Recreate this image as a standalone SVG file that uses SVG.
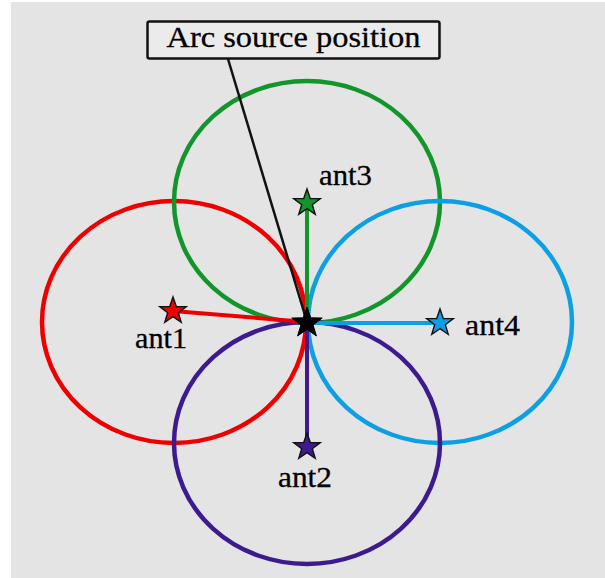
<svg xmlns="http://www.w3.org/2000/svg" width="605" height="578" viewBox="0 0 605 578">
  <defs>
    <style>
      .lbl { font-family: "Liberation Serif", "Times New Roman", serif; font-size: 30px; fill: #000; stroke: #000; stroke-width: 0.3; }
      .ring { fill: none; stroke-width: 4.5; }
      .ray { stroke-width: 4; stroke-linecap: butt; }
      .star { stroke: #111; stroke-width: 1.4; stroke-linejoin: miter; }
    </style>
    <path id="star" d="M0,-14 L3.29,-4.53 L13.31,-4.33 L5.33,1.73 L8.23,11.33 L0,5.6 L-8.23,11.33 L-5.33,1.73 L-13.31,-4.33 L-3.29,-4.53 Z"/>
  </defs>

  <!-- canvas -->
  <rect x="0" y="0" width="605" height="578" fill="#ffffff"/>
  <rect x="11" y="2" width="594" height="576" fill="#e4e4e4"/>

  <!-- coverage rings of the four antennas -->
  <g id="rings">
    <ellipse class="ring" cx="174" cy="322" rx="132" ry="121" stroke="#ee0000"/>
    <ellipse class="ring" cx="307" cy="202" rx="133" ry="121" stroke="#12952a"/>
    <ellipse class="ring" cx="440" cy="322" rx="132" ry="121" stroke="#0c9fe4"/>
    <ellipse class="ring" cx="307" cy="443" rx="133" ry="121" stroke="#3d1b8e"/>
  </g>

  <!-- connectors -->
  <g id="connectors">
    <line class="ray" x1="307" y1="322" x2="173" y2="311" stroke="#ee0000"/>
    <line class="ray" x1="307" y1="322" x2="307" y2="204" stroke="#12952a"/>
    <line class="ray" x1="307" y1="323" x2="440" y2="323" stroke="#0c9fe4"/>
    <line class="ray" x1="307" y1="323" x2="307" y2="446" stroke="#3d1b8e"/>
    <line x1="228" y1="59" x2="307" y2="322" stroke="#111" stroke-width="2.5"/>
  </g>

  <!-- callout -->
  <g id="callout">
    <rect x="147.5" y="21.5" width="292" height="37" rx="2" fill="#ebebeb" stroke="#111" stroke-width="2.5"/>
    <text class="lbl" x="293.5" y="47" text-anchor="middle" textLength="254" lengthAdjust="spacingAndGlyphs">Arc source position</text>
  </g>

  <g id="ant1">
    <use href="#star" x="173" y="311" class="star" fill="#ee0000"/>
    <text class="lbl" x="135" y="348" textLength="52" lengthAdjust="spacingAndGlyphs">ant1</text>
  </g>
  <g id="ant2">
    <use href="#star" x="307" y="447" class="star" fill="#3d1b8e"/>
    <text class="lbl" x="278" y="487" textLength="54" lengthAdjust="spacingAndGlyphs">ant2</text>
  </g>
  <g id="ant3">
    <use href="#star" x="307" y="203" class="star" fill="#12952a"/>
    <text class="lbl" x="319" y="185" textLength="53" lengthAdjust="spacingAndGlyphs">ant3</text>
  </g>
  <g id="ant4">
    <use href="#star" x="440" y="323" class="star" fill="#0c9fe4"/>
    <text class="lbl" x="465" y="335" textLength="55" lengthAdjust="spacingAndGlyphs">ant4</text>
  </g>

  <g id="source">
    <path d="M0,-16 L3.76,-5.18 L15.22,-4.94 L6.09,1.98 L9.40,12.94 L0,6.4 L-9.40,12.94 L-6.09,1.98 L-15.22,-4.94 L-3.76,-5.18 Z" transform="translate(307,323)" fill="#000" stroke="#000" stroke-width="1"/>
  </g>
</svg>
